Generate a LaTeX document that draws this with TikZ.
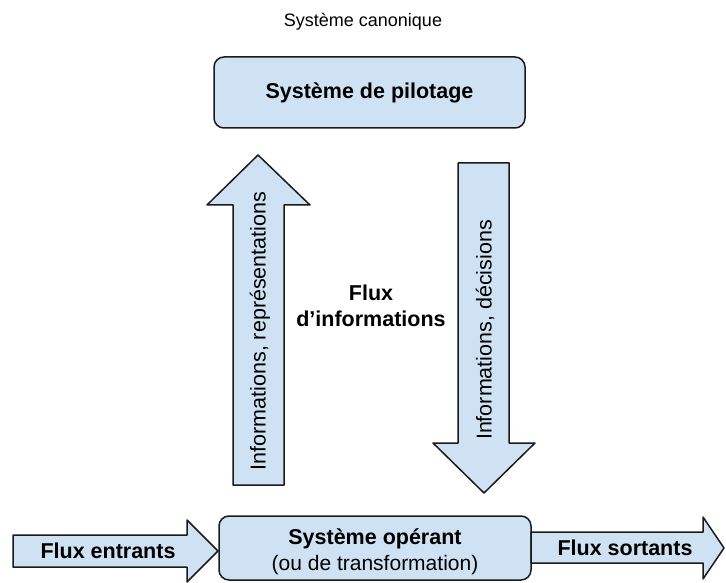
\documentclass[tikz,border=0pt]{standalone}
\usepackage{fontspec}
\setmainfont{Liberation Sans}
\definecolor{boxblue}{HTML}{CFE2F3}
\definecolor{edge}{HTML}{1A1A1A}
\begin{document}
\begin{tikzpicture}[x=1pt,y=-1pt,
  shapestyle/.style={draw=edge,fill=boxblue,line width=1.5pt,line join=round},
  boxstyle/.style={shapestyle,rounded corners=10pt},
  boldtxt/.style={font=\fontsize{21.5}{24}\selectfont\bfseries,inner sep=0pt},
  regtxt/.style={font=\fontsize{21}{24}\selectfont,inner sep=0pt},
  vtxt/.style={font=\fontsize{21.5}{24}\selectfont,inner sep=0pt,rotate=90}]
\useasboundingbox (0,0) rectangle (726,583);
% title
\node[font=\fontsize{18}{20}\selectfont,inner sep=0pt] (title) at (363,22) {Système canonique};
% top box
\draw[boxstyle] (214,57) rectangle (525,128);
\node[boldtxt] (pilot) at (369.5,93) {Système de pilotage};
% bottom box
\draw[boxstyle] (219,516) rectangle (531,580);
\node[boldtxt] (oper) at (375,539) {Système opérant};
\node[regtxt] (operb) at (375,565) {(ou de transformation)};
% up arrow (left)
\draw[shapestyle] (233,485) -- (233,205) -- (207,205) -- (258,155) -- (310,205) -- (284,205) -- (284,485) -- cycle;
\node[vtxt] (upt) at (260,331) {Informations, représentations};
% down arrow (right)
\draw[shapestyle] (458,163) -- (509,163) -- (509,443) -- (535,443) -- (484,493) -- (433,443) -- (458,443) -- cycle;
\node[vtxt] (downt) at (485,330) {Informations, décisions};
% middle label
\node[boldtxt,align=center] (flux) at (371,306) {Flux\\[2pt]d’informations};
% left arrow
\draw[shapestyle] (13,535) -- (187,535) -- (187,520) -- (218,551) -- (187,582) -- (187,567) -- (13,567) -- cycle;
\node[boldtxt] (fin) at (108,551) {Flux entrants};
% right arrow
\draw[shapestyle] (531,532) -- (703,532) -- (703,517) -- (724,548) -- (703,579) -- (703,563) -- (531,563) -- cycle;
\node[boldtxt] (fout) at (625,548) {Flux sortants};
\end{tikzpicture}
\end{document}
